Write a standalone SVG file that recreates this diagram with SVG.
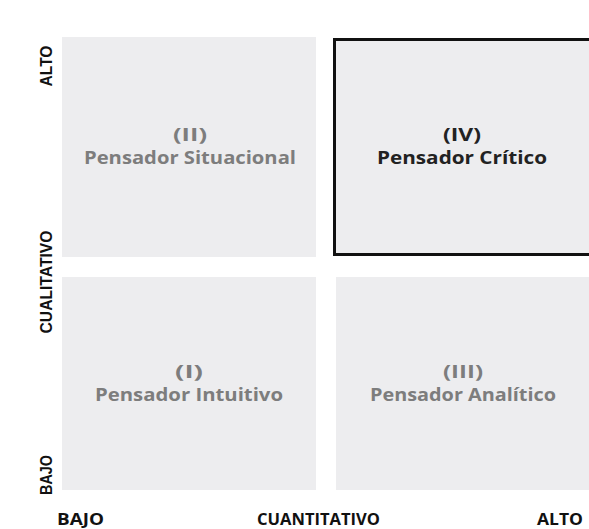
<svg xmlns="http://www.w3.org/2000/svg" width="589" height="529" viewBox="0 0 589 529">
<style>
.box{fill:#ededef;}
.crit{fill:#ededef;stroke:#111;stroke-width:3;}
.t{font-family:"Open Sans","Noto Sans",sans-serif;font-weight:700;font-size:17px;text-anchor:middle;fill:#7d7d7d;}
.tc{fill:#222;}
.ax{font-family:"Liberation Sans Narrow","Liberation Sans",Arial,sans-serif;font-weight:700;font-size:17px;fill:#111;text-anchor:middle;}
.axb{font-family:"Open Sans","Noto Sans",sans-serif;font-weight:700;font-size:16.5px;fill:#111;}
</style>
<rect width="589" height="529" fill="#ffffff"/>
<g id="q2">
<rect class="box" x="62" y="37" width="254" height="220"/>
<text class="t" x="190" y="141" textLength="34" lengthAdjust="spacingAndGlyphs">(II)</text>
<text class="t" x="190" y="164" textLength="212" lengthAdjust="spacingAndGlyphs">Pensador Situacional</text>
</g>
<g id="q4">
<rect class="crit" x="334.5" y="39.5" width="260" height="215"/>
<text class="t tc" x="462" y="141" textLength="38" lengthAdjust="spacingAndGlyphs">(IV)</text>
<text class="t tc" x="462" y="164" textLength="170" lengthAdjust="spacingAndGlyphs">Pensador Crítico</text>
</g>
<g id="q1">
<rect class="box" x="62" y="277" width="254" height="213"/>
<text class="t" x="189" y="378" textLength="28" lengthAdjust="spacingAndGlyphs">(I)</text>
<text class="t" x="189" y="401" textLength="188" lengthAdjust="spacingAndGlyphs">Pensador Intuitivo</text>
</g>
<g id="q3">
<rect class="box" x="336" y="277" width="253" height="213"/>
<text class="t" x="463" y="378" textLength="40" lengthAdjust="spacingAndGlyphs">(III)</text>
<text class="t" x="463" y="401" textLength="186" lengthAdjust="spacingAndGlyphs">Pensador Analítico</text>
</g>
<g id="axes">
<text class="ax" transform="translate(52,66) rotate(-90)" textLength="41" lengthAdjust="spacingAndGlyphs">ALTO</text>
<text class="ax" transform="translate(52,282) rotate(-90)" textLength="103" lengthAdjust="spacingAndGlyphs">CUALITATIVO</text>
<text class="ax" transform="translate(52,475) rotate(-90)" textLength="40" lengthAdjust="spacingAndGlyphs">BAJO</text>
<text class="axb" x="57" y="525" textLength="47" lengthAdjust="spacingAndGlyphs">BAJO</text>
<text class="axb" x="257" y="525" textLength="123" lengthAdjust="spacingAndGlyphs">CUANTITATIVO</text>
<text class="axb" x="537" y="525" textLength="46" lengthAdjust="spacingAndGlyphs">ALTO</text>
</g>
</svg>
